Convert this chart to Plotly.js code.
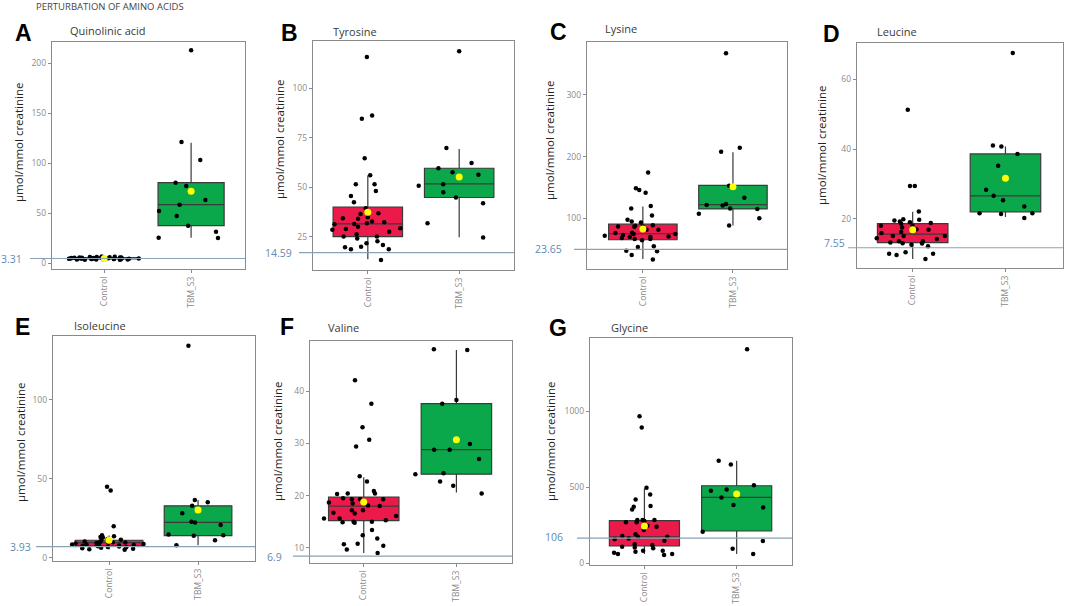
<!DOCTYPE html>
<html>
<head>
<meta charset="utf-8">
<script src="https://cdn.plot.ly/plotly-3.0.1.min.js"></script>
<style>html,body{margin:0;padding:0;background:#fff;}</style>
</head>
<body>
<div id="chart" style="width:1065px;height:606px;"></div>
<script>
// ---------------- DATA ----------------
const chartTitle = 'PERTURBATION OF AMINO ACIDS';
const groups = ['Control', 'TBM_S3'];
const panelLetters = ['A', 'B', 'C', 'D', 'E', 'F', 'G'];
const analytes = ['Quinolinic acid', 'Tyrosine', 'Lysine', 'Leucine', 'Isoleucine', 'Valine', 'Glycine'];
const yTitle = 'µmol/mmol creatinine';
const refLabels = ['3.31', '14.59', '23.65', '7.55', '3.93', '6.9', '106'];
const refLineY = [4.5, 16.9, 49.4, 11.7, 7.2, 8.4, 166];
const yTicks = [
  [0, 50, 100, 150, 200],
  [25, 50, 75, 100],
  [100, 200, 300],
  [20, 40, 60],
  [0, 50, 100],
  [10, 20, 30, 40],
  [0, 500, 1000]
];

// individual observations
const quinolinicControl = [4.1,5.0,3.6,5.7,4.6,5.2,3.8,4.2,6.2,4.8,4.0,5.5,3.3,4.5,5.1,5.9,3.9,4.9,4.4,3.7,5.3,4.7,6.5,4.1,5.2,3.4,4.3,5.6,4.6,4.8,3.6,6.0,4.2,5.0,3.9,5.4,4.4,3.2];
const quinolinicTBM = [212.7,121,103,80.3,77,63,58.3,52,47,37.3,31.3,25.3,25.0];
const tyrosineControl = [115.9,84.6,86.3,64.7,51.5,48.1,56.1,51.5,45.6,42.4,39.4,36.8,36.5,34.8,29.2,28.9,28.5,32.6,31.2,34,31.4,30,32.3,31.8,34.3,25,27.5,26.2,25,24,21.6,20.8,19.9,22.6,18.6,19.6,18.6,13.2];
const tyrosineTBM = [118.8,69.8,59.6,62.2,56.3,57.6,51.5,50.7,47.5,44.8,41.9,31.8,24.5];
const lysineControl = [174.2,148.4,145.7,141.4,119.9,115.6,104.3,97.3,94.6,93,86.6,86,81.2,87.6,81.2,86.6,81.2,75.8,74.2,74.2,70.4,66.1,67.7,69.4,64,66.1,72.6,69.4,53.2,54.3,47.3,46.2,40.3,32.8,88.5,76.5,71.5];
const lysineTBM = [367.7,214.5,208,152.7,133.3,123.1,121.5,115.6,115,120.4,107,100,88.2];
const leucineControl = [51.3,29.4,29.4,22.1,19.7,19.2,19.9,19.5,19,18.8,18.6,18,18,16.9,16.9,15.9,15.1,15.1,17,14.2,14.4,13.6,13.2,12.9,12.6,13,13.6,15.1,10.4,10,10,12.1,9.6,8.5,17.5,16.2];
const leucineTBM = [67.5,41,40.7,38.6,35.2,28.3,26.6,25.3,23.5,21.6,21.4,21.6,20.2];
const isoleucineControl = [42.6,45.1,20.1,14.4,13.3,13.8,12.9,12.0,11.6,11.1,10.7,10.5,10.1,9.9,9.8,9.6,9.5,9.2,9.1,8.9,8.6,8.5,8.2,8.1,7.9,7.7,7.5,7.3,7.0,6.8,6.4,6.1,5.8,5.5,5.2];
const isoleucineTBM = [134.1,36.7,35.2,33,28.2,22.9,22.5,20.8,14.8,14.4,14,11.2,8];
const valineControl = [42.1,37.6,33.1,30.7,29.4,23.7,22.7,20.9,20.4,20.4,20.3,18.5,19.5,19.3,19.3,18.8,19.3,18,18.7,18.1,17.2,17.2,16.7,16.1,15.6,15.3,15,15,14.9,15.6,14.8,16.6,13.4,11.8,12.4,10.4,10.7,10.8,9.7,9];
const valineTBM = [47.9,48,38.3,37.6,29.9,28.8,28.8,27,24.3,24.1,22.7,21.9,20.4];
const glycineControl = [969,895,498,454,421,355,373,377,285,248,278,285,270,270,285,241,219,191,175,158,164,175,180,149,125,121,110,105,99,83,61,55,77,61,70,83];
const glycineTBM = [1410,651,675,515,487,478,384,368,434,208,147,96,61];

// box summary statistics (A..G)
const controlQ1     = [4.1, 25, 65, 13.2, 7.6, 15.2, 114];
const controlMedian = [4.7, 31.4, 74.7, 15.6, 9.7, 18, 175];
const controlQ3     = [5.5, 39.9, 90.3, 18.6, 11.2, 19.7, 281];
const controlLow    = [3.0, 13.5, 33.9, 8.5, 5.3, 9, 61];
const controlHigh   = [7.0, 55.9, 118.8, 22, 14.2, 23.5, 493];
const controlMean   = [4.6, 37.3, 82.3, 16.9, 11.2, 18.8, 246];
const tbmQ1     = [37.3, 44.8, 115, 22, 14.2, 24.1, 213];
const tbmMedian = [58.3, 51.7, 122, 26.6, 22.5, 28.8, 434];
const tbmQ3     = [80.3, 59.6, 153.2, 38.6, 33, 37.6, 511];
const tbmLow    = [25.3, 24.7, 88.2, 20.5, 8, 20.6, 61];
const tbmHigh   = [120.3, 69.4, 207, 40.7, 36.7, 47.9, 675];
const tbmMean   = [71.7, 55.2, 151, 31.6, 30.3, 30.7, 456];

const controlPoints = [quinolinicControl, tyrosineControl, lysineControl, leucineControl, isoleucineControl, valineControl, glycineControl];
const tbmPoints = [quinolinicTBM, tyrosineTBM, lysineTBM, leucineTBM, isoleucineTBM, valineTBM, glycineTBM];

// ---------------- LAYOUT CONFIG (pixels) ----------------
const W = 1065, H = 606;
const panels = [
  {l:52,  r:245,  t:42,  b:269, xr:[-0.6,1.62], yr:[-6,221],    lineX:30,  labR:24,  letter:[23,33],  name:[68,30],  yt:[18,143],  labShift:0},
  {l:313, r:514,  t:41,  b:270, xr:[-0.6,1.6],  yr:[8.1,124],   lineX:299, labR:294, letter:[289,33], name:[331,31], yt:[279,140], labShift:0},
  {l:587, r:787,  t:42,  b:269, xr:[-0.62,1.6], yr:[17.5,386],  lineX:574, labR:564, letter:[558,32], name:[603,28], yt:[549,141], labShift:0},
  {l:857, r:1063, t:43,  b:268, xr:[-0.6,1.62], yr:[5.9,70.4],  lineX:848, labR:847, letter:[831,34], name:[875,31], yt:[821,146], labShift:5},
  {l:53,  r:255,  t:336, b:561, xr:[-0.63,1.64],yr:[-1.9,140.3],lineX:36,  labR:33,  letter:[22,327], name:[72,325], yt:[20,443],  labShift:0},
  {l:310, r:512,  t:341, b:563, xr:[-0.58,1.6], yr:[7.1,49.6],  lineX:293, labR:284, letter:[287,327],name:[326,327],yt:[278,442], labShift:-1},
  {l:590, r:792,  t:338, b:565, xr:[-0.59,1.6], yr:[-11,1484],  lineX:577, labR:565, letter:[558,328],name:[609,327],yt:[551,442], labShift:1}
];
const RED = '#ec1a4b', GREEN = '#0aa84b', FRAME = '#8a8a8a';
const px = x => x / W, py = y => 1 - y / H;

const data = [], shapes = [], annotations = [];
const layout = {
  width: W, height: H, autosize: false,
  margin: {l:0, r:0, t:0, b:0, pad:0},
  paper_bgcolor: '#fff', plot_bgcolor: '#fff',
  showlegend: false, boxmode: 'overlay',
  font: {family: 'Open Sans, sans-serif', color: '#333'}
};

panels.forEach((p, i) => {
  const n = i + 1;
  const xa = n === 1 ? 'x' : 'x' + n, ya = n === 1 ? 'y' : 'y' + n;
  layout['xaxis' + (n === 1 ? '' : n)] = {
    domain: [px(p.l), px(p.r)], anchor: ya, type: 'category',
    categoryorder: 'array', categoryarray: groups,
    range: p.xr, showline: true, mirror: true, linecolor: FRAME, linewidth: 1.3,
    ticks: 'outside', ticklen: 3, tickcolor: FRAME, tickwidth: 1,
    tickangle: -90, tickfont: {size: 8.5, color: '#8a8a8a'},
    showgrid: false, zeroline: false, fixedrange: true
  };
  layout['yaxis' + (n === 1 ? '' : n)] = {
    domain: [py(p.b), py(p.t)], anchor: xa,
    range: p.yr, tickvals: yTicks[i],
    showline: true, mirror: true, linecolor: FRAME, linewidth: 1.3,
    ticks: 'outside', ticklen: 3, tickcolor: FRAME, tickwidth: 1,
    tickfont: {size: 8.5, color: '#8a8a8a'},
    showgrid: false, zeroline: false, fixedrange: true
  };

  // boxes from summary stats
  data.push({
    type: 'box', x: [groups[0]], q1: [controlQ1[i]], median: [controlMedian[i]], q3: [controlQ3[i]],
    lowerfence: [controlLow[i]], upperfence: [controlHigh[i]],
    width: 0.76, whiskerwidth: 0, fillcolor: RED, line: {color: '#3a3a3a', width: 1.2},
    boxpoints: false, xaxis: xa, yaxis: ya, hoverinfo: 'skip'
  });
  data.push({
    type: 'box', x: [groups[1]], q1: [tbmQ1[i]], median: [tbmMedian[i]], q3: [tbmQ3[i]],
    lowerfence: [tbmLow[i]], upperfence: [tbmHigh[i]],
    width: 0.76, whiskerwidth: 0, fillcolor: GREEN, line: {color: '#3a3a3a', width: 1.2},
    boxpoints: false, xaxis: xa, yaxis: ya, hoverinfo: 'skip'
  });
  // jittered observations
  const cx = controlPoints[i].map(() => groups[0]).concat(tbmPoints[i].map(() => groups[1]));
  data.push({
    type: 'box', x: cx, y: controlPoints[i].concat(tbmPoints[i]),
    boxpoints: 'all', jitter: 1, pointpos: 0, width: 0.9, whiskerwidth: 0,
    fillcolor: 'rgba(0,0,0,0)', line: {color: 'rgba(0,0,0,0)', width: 0},
    marker: {color: '#000', size: 4.5, line: {width: 0}},
    xaxis: xa, yaxis: ya, hoverinfo: 'y'
  });
  // means
  data.push({
    type: 'scatter', mode: 'markers', x: groups, y: [controlMean[i], tbmMean[i]],
    marker: {color: '#ffff00', size: 7, line: {width: 0}},
    xaxis: xa, yaxis: ya, hoverinfo: 'y'
  });

  // reference line & label
  shapes.push({
    type: 'line', xref: 'paper', yref: ya, x0: px(p.lineX), x1: px(p.r),
    y0: refLineY[i], y1: refLineY[i], line: {color: '#8aa2b4', width: 1.2}, layer: 'above'
  });
  annotations.push({
    xref: 'paper', yref: ya, x: px(p.labR), y: refLineY[i], yshift: p.labShift,
    text: refLabels[i], showarrow: false, xanchor: 'right', yanchor: 'middle',
    font: {size: 10.5, color: '#5f8bb3', family: 'Open Sans, sans-serif'}
  });
  // panel letter
  annotations.push({
    xref: 'paper', yref: 'paper', x: px(p.letter[0]), y: py(p.letter[1]),
    text: '<b>' + panelLetters[i] + '</b>', showarrow: false, xanchor: 'center', yanchor: 'middle',
    font: {size: 23, color: '#000', family: 'Liberation Sans, Arial, sans-serif'}
  });
  // analyte name
  annotations.push({
    xref: 'paper', yref: 'paper', x: px(p.name[0]), y: py(p.name[1]),
    text: analytes[i], showarrow: false, xanchor: 'left', yanchor: 'middle',
    font: {size: 11, color: '#3a3a3a', family: 'Open Sans, sans-serif'}
  });
  // y title
  annotations.push({
    xref: 'paper', yref: 'paper', x: px(p.yt[0]), y: py(p.yt[1]),
    text: yTitle, showarrow: false, textangle: -90, xanchor: 'center', yanchor: 'middle',
    font: {size: 11.5, color: '#222', family: 'Open Sans, sans-serif'}
  });
});

annotations.push({
  xref: 'paper', yref: 'paper', x: px(34), y: py(6),
  text: chartTitle, showarrow: false, xanchor: 'left', yanchor: 'middle',
  font: {size: 9.5, color: '#444', family: 'Open Sans, sans-serif'}
});

layout.shapes = shapes;
layout.annotations = annotations;

Plotly.newPlot('chart', data, layout, {staticPlot: true, displayModeBar: false});
</script>
</body>
</html>
